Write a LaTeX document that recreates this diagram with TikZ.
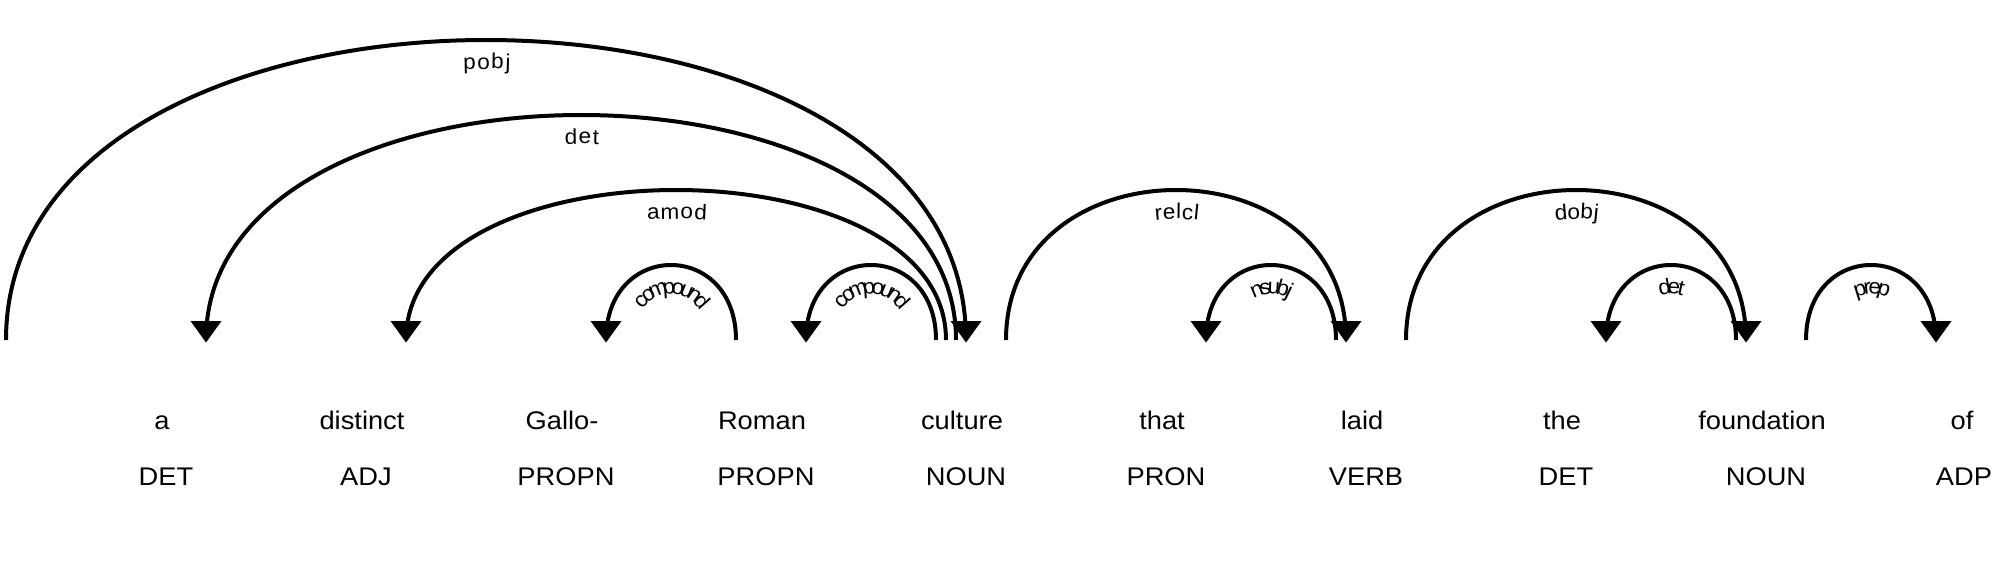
\documentclass[tikz,border=0pt]{standalone}
\usepackage{fontspec}
\setmainfont{Liberation Sans}
\newfontfamily\wordfont[FakeStretch=1.07]{Liberation Sans}
\newfontfamily\lblfont[FakeStretch=1.05]{Liberation Sans}
\newcommand{\lblsize}{\lblfont\fontsize{21.5}{25}\selectfont\kern1.8pt}
\usetikzlibrary{decorations.text,calc}
\tikzset{
  arcline/.style={line width=4pt, black},
  tiphead/.style={fill=black},
  tok/.style={font=\wordfont\fontsize{25.5}{30}\selectfont, anchor=base, inner sep=0pt},
  arclabel/.style={decorate, decoration={text along path, text={|\lblsize|#1}, text align=center, raise=-29pt}}
}
\newcommand{\DepArc}[5]{%
  \draw[arcline] (#1) .. controls ($(#1)+(0,-100*#3)$) and ($(#2)+(0,-100*#3)$) .. (#2);
  \path[arclabel={#4}] (#1) .. controls ($(#1)+(0,-100*#3)$) and ($(#2)+(0,-100*#3)$) .. (#2);
  \fill[tiphead] (#5) ++(0,2.5) -- ++(-15.5,-21.5) -- ++(31,0) -- cycle;
}
\begin{document}
\begin{tikzpicture}[x=1pt,y=-1pt]
\useasboundingbox (0,0) rectangle (2004,564);
% words
\node[tok] (w0) at (162,429) {a};
\node[tok] (w1) at (362,429) {distinct};
\node[tok] (w2) at (562,429) {Gallo-};
\node[tok] (w3) at (762,429) {Roman};
\node[tok] (w4) at (962,429) {culture};
\node[tok] (w5) at (1162,429) {that};
\node[tok] (w6) at (1362,429) {laid};
\node[tok] (w7) at (1562,429) {the};
\node[tok] (w8) at (1762,429) {foundation};
\node[tok] (w9) at (1962,429) {of};
% tags
\node[tok] (t0) at (166,485) {DET};
\node[tok] (t1) at (366,485) {ADJ};
\node[tok] (t2) at (566,485) {PROPN};
\node[tok] (t3) at (766,485) {PROPN};
\node[tok] (t4) at (966,485) {NOUN};
\node[tok] (t5) at (1166,485) {PRON};
\node[tok] (t6) at (1366,485) {VERB};
\node[tok] (t7) at (1566,485) {DET};
\node[tok] (t8) at (1766,485) {NOUN};
\node[tok] (t9) at (1964,485) {ADP};
% arc end points
\coordinate (pobjS) at (6,340);    \coordinate (pobjE) at (966,340);
\coordinate (detaS) at (206,340);  \coordinate (detaE) at (956,340);
\coordinate (amodS) at (406,340);  \coordinate (amodE) at (946,340);
\coordinate (cmpaS) at (606,340);  \coordinate (cmpaE) at (736,340);
\coordinate (cmpbS) at (806,340);  \coordinate (cmpbE) at (936,340);
\coordinate (relS) at (1006,340);  \coordinate (relE) at (1346,340);
\coordinate (nsuS) at (1206,340);  \coordinate (nsuE) at (1336,340);
\coordinate (dobS) at (1406,340);  \coordinate (dobE) at (1746,340);
\coordinate (detbS) at (1606,340); \coordinate (detbE) at (1736,340);
\coordinate (prepS) at (1806,340); \coordinate (prepE) at (1936,340);
% arcs
\DepArc{pobjS}{pobjE}{4}{pobj}{pobjE}
\DepArc{detaS}{detaE}{3}{det}{detaS}
\DepArc{amodS}{amodE}{2}{amod}{amodS}
\DepArc{cmpaS}{cmpaE}{1}{compound}{cmpaS}
\DepArc{cmpbS}{cmpbE}{1}{compound}{cmpbS}
\DepArc{relS}{relE}{2}{relcl}{relE}
\DepArc{nsuS}{nsuE}{1}{nsubj}{nsuS}
\DepArc{dobS}{dobE}{2}{dobj}{dobE}
\DepArc{detbS}{detbE}{1}{det}{detbS}
\DepArc{prepS}{prepE}{1}{prep}{prepE}
\end{tikzpicture}
\end{document}
